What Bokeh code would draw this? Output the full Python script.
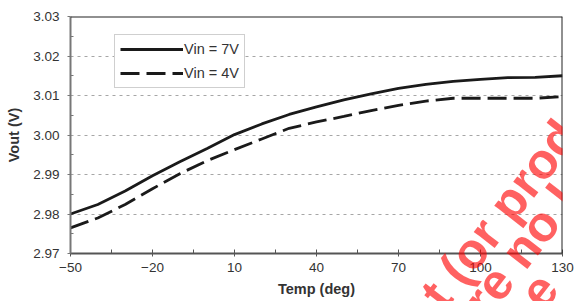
from bokeh.plotting import figure
from bokeh.layouts import column
from bokeh.models import (Range1d, FixedTicker, PrintfTickFormatter, Span,
                          Legend, LegendItem, Label)
from bokeh.embed import file_html
from bokeh.resources import INLINE

# ---- data ----
temps = [-50, -40, -30, -20, -10, 0, 10, 20, 30, 40, 50, 60, 70, 80, 90, 100, 110, 120, 130]
vout_7v = [2.9800, 2.9824, 2.9858, 2.9897, 2.9932, 2.9966, 3.0001, 3.0028, 3.0052, 3.0071,
           3.0089, 3.0104, 3.0118, 3.0128, 3.0136, 3.0141, 3.0145, 3.0146, 3.0150]
vout_4v = [2.9765, 2.9790, 2.9824, 2.9864, 2.9902, 2.9935, 2.9963, 2.9990, 3.0017, 3.0033,
           3.0047, 3.0062, 3.0075, 3.0086, 3.0093, 3.0093, 3.0093, 3.0093, 3.0097]
series_labels = ["Vin = 7V", "Vin = 4V"]
x_ticks = [-50, -20, 10, 40, 70, 100, 130]
x_minor = [-35, -5, 25, 55, 85, 115]
y_ticks = [2.97, 2.98, 2.99, 3.00, 3.01, 3.02, 3.03]
y_minor = [2.975, 2.985, 2.995, 3.005, 3.015, 3.025]
x_title = "Temp (deg)"
y_title = "Vout (V)"
watermark_lines = ["ct (or produ", "re no lo", "e"]

FONT = "Liberation Sans"
W, H = 574, 301

p = figure(width=W, height=H, output_backend="svg", toolbar_location=None,
           x_range=Range1d(-50, 130), y_range=Range1d(2.97, 3.03),
           min_border_left=70, min_border_right=12, min_border_top=16, min_border_bottom=48)
p.outline_line_color = None
p.background_fill_color = "white"
p.border_fill_color = "white"

# grid
p.xgrid.visible = False
p.ygrid.grid_line_color = "#a6a6a6"
p.ygrid.grid_line_dash = "3 4"
p.ygrid.grid_line_width = 1

# x axis
xa = p.xaxis[0]
xa.ticker = FixedTicker(ticks=x_ticks, minor_ticks=x_minor)
xa.axis_line_color = "#555555"
xa.axis_line_width = 2
xa.major_tick_line_color = "#555555"
xa.minor_tick_line_color = "#555555"
xa.major_tick_in = 4
xa.major_tick_out = 3
xa.minor_tick_in = 4
xa.minor_tick_out = 0
xa.major_label_standoff = 6
xa.major_label_text_font = FONT
xa.major_label_text_font_size = "13.5px"
xa.major_label_text_color = "#333333"
xa.axis_label = x_title
xa.axis_label_text_font = FONT
xa.axis_label_text_font_style = "bold"
xa.axis_label_text_font_size = "14.5px"
xa.axis_label_text_color = "#333333"
xa.axis_label_standoff = 6

# y axis
ya = p.yaxis[0]
ya.ticker = FixedTicker(ticks=y_ticks, minor_ticks=y_minor)
ya.formatter = PrintfTickFormatter(format="%.2f")
ya.axis_line_color = "#777777"
ya.axis_line_width = 2
ya.major_tick_line_color = "#777777"
ya.minor_tick_line_color = "#777777"
ya.major_tick_in = 0
ya.major_tick_out = 3
ya.minor_tick_in = 3
ya.minor_tick_out = 0
ya.major_label_standoff = 8
ya.major_label_text_font = FONT
ya.major_label_text_font_size = "13.5px"
ya.major_label_text_color = "#333333"
ya.axis_label = y_title
ya.axis_label_text_font = FONT
ya.axis_label_text_font_style = "bold"
ya.axis_label_text_font_size = "14.5px"
ya.axis_label_text_color = "#333333"
ya.axis_label_standoff = 8

# frame top / right borders
p.add_layout(Span(location=3.03, dimension="width", line_color="#222222", line_width=2))
p.add_layout(Span(location=130, dimension="height", line_color="#222222", line_width=2))

# series
r7 = p.line(temps, vout_7v, line_color="#1a1a1a", line_width=2.8)
r4 = p.line(temps, vout_4v, line_color="#1a1a1a", line_width=2.8, line_dash="19 7")

legend = Legend(items=[LegendItem(label=series_labels[0], renderers=[r7]),
                       LegendItem(label=series_labels[1], renderers=[r4])],
                location=(44, 165), orientation="vertical")
legend.border_line_color = "#a0a0a0"
legend.border_line_width = 1
legend.background_fill_color = "white"
legend.background_fill_alpha = 1
legend.padding = 5
legend.margin = 0
legend.spacing = 6
legend.glyph_width = 63
legend.glyph_height = 18
legend.label_height = 18
legend.label_width = 55
legend.label_standoff = 1
legend.label_text_font = FONT
legend.label_text_font_size = "14.5px"
legend.label_text_color = "#333333"
p.add_layout(legend, "center")

# watermark overlay (transparent figure covering the whole page)
wm = figure(width=W, height=H, output_backend="svg", toolbar_location=None,
            x_range=Range1d(0, W), y_range=Range1d(0, H),
            x_axis_type=None, y_axis_type=None, min_border=0,
            styles={"position": "absolute", "left": "0px", "top": "0px",
                    "pointer-events": "none"})
wm.grid.visible = False
wm.outline_line_color = None
wm.background_fill_alpha = 0
wm.border_fill_alpha = 0
wm_pos = [(401, -22), (471, -8), (536, 0)]
for txt, (sx, sy) in zip(watermark_lines, wm_pos):
    wm.add_layout(Label(x=sx, y=sy, text=txt,
                        angle=52, angle_units="deg", text_font=FONT, text_font_style="bold",
                        text_font_size="50px", text_color="red", text_alpha=0.62,
                        text_baseline="alphabetic", text_align="left"))

layout = column(p, wm, styles={"position": "relative"})
open("out.html", "w").write(file_html(layout, INLINE))
